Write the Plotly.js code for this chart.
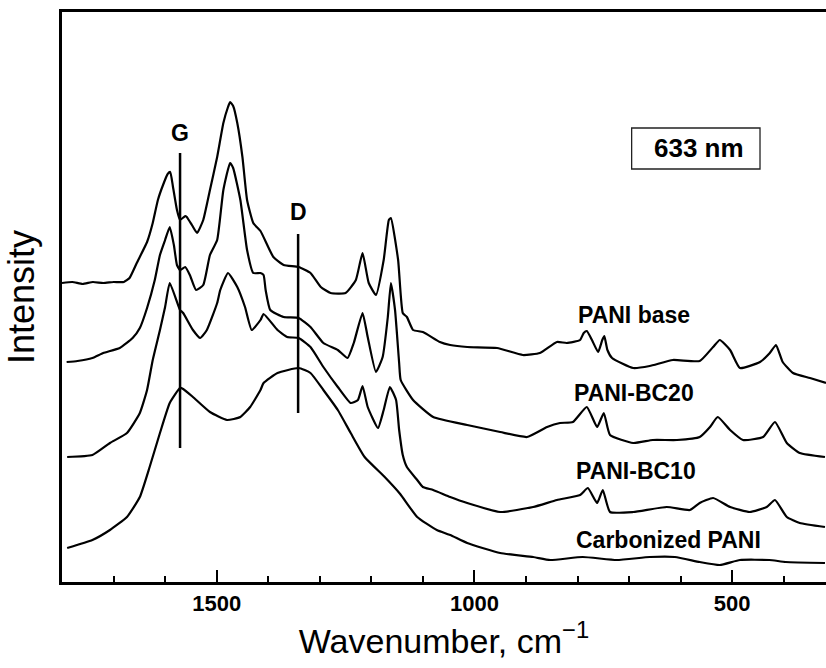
<!DOCTYPE html>
<html>
<head>
<meta charset="utf-8">
<script src="https://cdn.plot.ly/plotly-3.0.1.min.js"></script>
<style>html,body{margin:0;padding:0;background:#fff;}#chart{width:826px;height:668px;}</style>
</head>
<body>
<div id="chart"></div>
<script>
// Raman spectra, 633 nm excitation (wavenumber in cm^-1, intensity in arbitrary offset units)
const baseWn = [1800,1780,1760,1740,1720,1700,1680,1669,1655,1635,1624,1614,1604,1595,1590,1585,1577,1571,1561,1558,1548,1538,1526,1513,1499,1487,1478,1474,1468,1460,1450,1441,1429,1415,1390,1370,1341,1318,1298,1279,1250,1230,1217,1205,1191,1176,1166,1162,1148,1139,1131,1119,1100,1067,1047,1014,956,906,873,840,821,795,788,782,772,760,752,748,742,733,692,660,615,563,537,524,504,485,446,427,415,402,382,349,318];
const baseI  = [299,300,298,300,299,300,300,304,319,340,359,382,397,408,410,396,372,362,366,365,357,349,362,392,425,459,475,480,476,459,425,382,359,351,325,317,315,309,295,289,289,302,329,299,287,322,362,364,322,269,265,252,250,240,237,235,234,227,229,240,239,242,249,251,242,230,242,246,232,224,214,216,222,221,235,242,232,214,220,229,237,220,209,204,199];

const bc20Wn = [1791,1770,1741,1720,1688,1663,1649,1635,1620,1610,1600,1591,1583,1577,1571,1561,1552,1540,1526,1513,1499,1487,1474,1468,1454,1441,1429,1415,1409,1405,1396,1370,1341,1318,1293,1265,1246,1234,1217,1207,1191,1178,1168,1162,1154,1146,1143,1119,1080,1014,950,898,859,834,809,782,762,749,737,692,654,607,563,543,528,504,479,440,417,394,369,320];
const bc20I  = [220,221,224,229,234,244,254,274,302,327,342,355,337,317,312,315,307,292,297,327,342,392,419,414,382,332,309,309,307,292,272,265,264,255,239,232,224,239,269,245,210,225,265,299,272,219,202,182,165,157,150,145,155,159,160,175,155,169,147,139,142,142,145,155,165,152,142,145,160,139,129,125];

const bc10Wn = [1790,1741,1707,1674,1649,1635,1624,1610,1600,1591,1571,1565,1546,1532,1519,1499,1493,1478,1460,1445,1432,1415,1409,1382,1363,1341,1318,1293,1265,1240,1226,1217,1207,1187,1176,1164,1152,1146,1139,1131,1111,1100,1080,1047,1014,950,886,840,795,780,762,751,737,692,627,582,563,537,504,466,433,417,394,369,320];
const bc10I  = [125,127,139,149,169,192,222,252,275,299,272,269,252,244,252,279,292,309,295,275,252,262,268,252,245,244,235,215,195,179,182,196,175,154,172,195,182,152,127,115,102,95,92,85,79,70,75,82,87,94,79,92,70,70,75,72,79,84,75,70,75,82,65,59,55];

const carbWn = [1790,1741,1707,1674,1649,1630,1610,1591,1571,1565,1546,1513,1480,1454,1435,1415,1409,1382,1341,1318,1293,1265,1240,1213,1174,1144,1111,1073,1047,1014,950,886,853,790,724,660,611,563,524,485,428,396,320];
const carbI  = [34,42,52,65,85,115,149,179,194,193,185,170,162,165,175,192,199,209,214,209,192,172,149,125,105,88,65,52,47,39,29,25,22,25,22,25,25,20,17,22,22,20,19];

const seriesNames = ["PANI base","PANI-BC20","PANI-BC10","Carbonized PANI"];
const xTickVals = [1500,1000,500];
const xTickText = ["1500","1000","500"];

const FONT = "Liberation Sans, Arial, Helvetica, sans-serif";
const lineStyle = {color:"#000", width:2.2, shape:"spline", smoothing:0.45};

const traces = [
  {x: baseWn, y: baseI, name: seriesNames[0]},
  {x: bc20Wn, y: bc20I, name: seriesNames[1]},
  {x: bc10Wn, y: bc10I, name: seriesNames[2]},
  {x: carbWn, y: carbI, name: seriesNames[3]}
].map(t => Object.assign(t, {type:"scatter", mode:"lines", line: lineStyle, hoverinfo:"skip"}));

const labelFont = {family: FONT, size: 23, color:"#000", weight:"bold"};

const layout = {
  width: 826, height: 668,
  margin: {l: 62, r: 0, t: 12, b: 86},
  paper_bgcolor: "#fff", plot_bgcolor: "#fff",
  showlegend: false,
  font: {family: FONT, color: "#000"},
  xaxis: {
    range: [1800, 318],
    showgrid: false, zeroline: false,
    showline: true, linecolor: "#000", linewidth: 3, mirror: true,
    ticks: "inside", ticklen: 12, tickwidth: 2, tickcolor: "#000",
    tickvals: xTickVals, ticktext: xTickText,
    tickfont: {family: FONT, size: 22, color: "#000", weight: "bold"},
    minor: {dtick: 100, tick0: 0, ticks: "inside", ticklen: 6, tickwidth: 2, tickcolor: "#000", showgrid: false},
    title: {text: "Wavenumber, cm<sup>\u22121</sup>\u00a0\u00a0", font: {family: FONT, size: 34, color: "#000"}, standoff: 9}
  },
  yaxis: {
    range: [0, 570],
    showgrid: false, zeroline: false,
    showline: true, linecolor: "#000", linewidth: 3, mirror: false,
    ticks: "", showticklabels: false,
    title: {text: "Intensity", font: {family: FONT, size: 36, color: "#000"}, standoff: 14}
  },
  shapes: [
    {type:"line", xref:"x", yref:"y", x0:1571, x1:1571, y0:134, y1:429, line:{color:"#000", width:2.5}},
    {type:"line", xref:"x", yref:"y", x0:1342, x1:1342, y0:169, y1:348, line:{color:"#000", width:2.5}},
    {type:"rect", xref:"x", yref:"y", x0:695, x1:446, y0:413, y1:454, line:{color:"#222", width:1.3}, fillcolor:"rgba(0,0,0,0)"}
  ],
  annotations: [
    {x:1571, y:449, xref:"x", yref:"y", text:"G", showarrow:false, font: labelFont, xanchor:"center", yanchor:"middle"},
    {x:1342, y:370, xref:"x", yref:"y", text:"D", showarrow:false, font: labelFont, xanchor:"center", yanchor:"middle"},
    {x:565, y:434, xref:"x", yref:"y", text:"633 nm", showarrow:false, font: {family: FONT, size: 26, color:"#000", weight:"bold"}, xanchor:"center", yanchor:"middle"},
    {x:690, y:267, xref:"x", yref:"y", text:seriesNames[0], showarrow:false, font: labelFont, xanchor:"center", yanchor:"middle"},
    {x:691, y:189, xref:"x", yref:"y", text:seriesNames[1], showarrow:false, font: labelFont, xanchor:"center", yanchor:"middle"},
    {x:687, y:111, xref:"x", yref:"y", text:seriesNames[2], showarrow:false, font: labelFont, xanchor:"center", yanchor:"middle"},
    {x:623, y:42, xref:"x", yref:"y", text:seriesNames[3], showarrow:false, font: labelFont, xanchor:"center", yanchor:"middle"}
  ]
};

Plotly.newPlot("chart", traces, layout, {staticPlot: true, displayModeBar: false});
</script>
</body>
</html>
